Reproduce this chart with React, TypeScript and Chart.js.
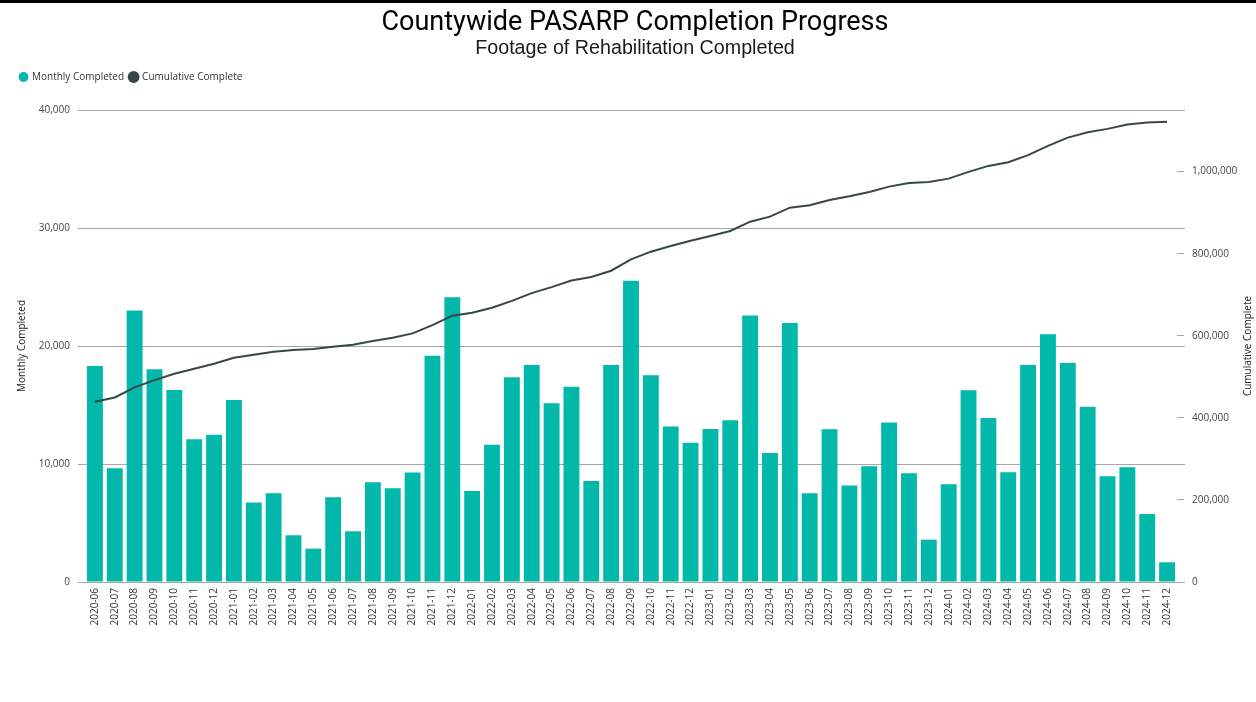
import React, { useEffect, useRef } from 'react';
import { Chart, registerables } from 'chart.js';

Chart.register(...registerables);

const TITLE = 'Countywide PASARP Completion Progress';
const SUBTITLE = 'Footage of Rehabilitation Completed';
const SERIES_NAMES = ['Monthly Completed', 'Cumulative Complete'];
const Y_TITLE = 'Monthly Completed';
const Y1_TITLE = 'Cumulative Complete';

const CATEGORIES = [
  '2020-06', '2020-07', '2020-08', '2020-09', '2020-10', '2020-11', '2020-12',
  '2021-01', '2021-02', '2021-03', '2021-04', '2021-05', '2021-06', '2021-07', '2021-08', '2021-09', '2021-10', '2021-11', '2021-12',
  '2022-01', '2022-02', '2022-03', '2022-04', '2022-05', '2022-06', '2022-07', '2022-08', '2022-09', '2022-10', '2022-11', '2022-12',
  '2023-01', '2023-02', '2023-03', '2023-04', '2023-05', '2023-06', '2023-07', '2023-08', '2023-09', '2023-10', '2023-11', '2023-12',
  '2024-01', '2024-02', '2024-03', '2024-04', '2024-05', '2024-06', '2024-07', '2024-08', '2024-09', '2024-10', '2024-11', '2024-12',
];

const MONTHLY = [
  18300, 9640, 23010, 18040, 16280, 12100, 12470,
  15430, 6730, 7520, 3960, 2830, 7180, 4300, 8450, 7940, 9270, 19170, 24140,
  7720, 11640, 17360, 18400, 15150, 16540, 8560, 18400, 25530, 17530, 13170, 11810,
  12970, 13710, 22580, 10940, 21960, 7520, 12950, 8170, 9810, 13510, 9220, 3590,
  8280, 16250, 13900, 9300, 18400, 21000, 18570, 14860, 8960, 9730, 5770, 1670,
];

const CUMULATIVE = [
  439000, 449700, 474100, 491900, 507300, 519500, 531700,
  546300, 553700, 561000, 565100, 567500, 573200, 578000, 587000, 595100, 605800, 626100, 649000,
  656100, 668300, 685000, 704000, 718500, 734500, 743000, 758500, 786300, 804900, 818800, 831700,
  843200, 855400, 878000, 890200, 912200, 918000, 931000, 940000, 950500, 963400, 972400, 974900,
  982900, 999300, 1013900, 1022900, 1040000, 1062700, 1082900, 1096100, 1104100, 1114600, 1119500, 1121200,
];

const Y_TICKS = [0, 10000, 20000, 30000, 40000];
const Y1_TICKS = [0, 200000, 400000, 600000, 800000, 1000000];
const Y_MAX = 40000;
const Y1_MAX = 1150000;

const TEAL = '#01B8AA';
const DARK = '#374649';
const GRID = '#a6a6a6';
const TICK_COLOR = '#444';
const UI_FONT = "'Segoe UI', 'Open Sans', 'Noto Sans', sans-serif";

export default function App() {
  const ref = useRef<HTMLCanvasElement | null>(null);

  useEffect(() => {
    if (!ref.current) return;

    const legendSpacer = {
      id: 'legendSpacer',
      beforeInit(chart: any) {
        const legend = chart.legend;
        if (!legend) return;
        const origFit = legend.fit;
        legend.fit = function () {
          origFit.call(this);
          this.height += 18;
        };
      },
    };

    const gridExtend = {
      id: 'gridExtend',
      afterDraw(chart: any) {
        const s = chart.scales.y;
        const ctx = chart.ctx;
        const area = chart.chartArea;
        ctx.save();
        ctx.strokeStyle = GRID;
        ctx.lineWidth = 1;
        s.ticks.forEach((t: any) => {
          const y = Math.round(s.getPixelForValue(t.value)) + 0.5;
          ctx.beginPath();
          ctx.moveTo(area.right, y);
          ctx.lineTo(area.right + 8, y);
          ctx.stroke();
        });
        ctx.restore();
      },
    };

    const rightTitle = {
      id: 'rightTitle',
      afterDraw(chart: any) {
        const s = chart.scales.y1;
        const ctx = chart.ctx;
        ctx.save();
        ctx.translate(s.right - 8, (s.top + s.bottom) / 2);
        ctx.rotate(-Math.PI / 2);
        ctx.textAlign = 'center';
        ctx.textBaseline = 'middle';
        ctx.font = `10px ${UI_FONT}`;
        ctx.fillStyle = '#252423';
        ctx.fillText(Y1_TITLE, 0, 0);
        ctx.restore();
      },
    };

    const chart = new Chart(ref.current, {
      type: 'bar',
      data: {
        labels: CATEGORIES,
        datasets: [
          {
            type: 'bar',
            label: SERIES_NAMES[0],
            data: MONTHLY,
            backgroundColor: TEAL,
            borderWidth: 0,
            barPercentage: 0.8,
            categoryPercentage: 1,
            yAxisID: 'y',
            order: 1,
          } as any,
          {
            type: 'line',
            label: SERIES_NAMES[1],
            data: CUMULATIVE,
            borderColor: DARK,
            backgroundColor: DARK,
            borderWidth: 2,
            pointRadius: 0,
            tension: 0,
            fill: false,
            yAxisID: 'y1',
            order: 0,
          } as any,
        ],
      },
      options: {
        responsive: false,
        animation: false,
        layout: { padding: { left: 14, right: 0, top: 0, bottom: 0 } },
        plugins: {
          title: {
            display: true,
            text: TITLE,
            color: '#000',
            font: { family: 'Roboto', size: 27, weight: '400', lineHeight: 1.2 },
            padding: { top: 7, bottom: -3 },
          },
          subtitle: {
            display: true,
            text: SUBTITLE,
            color: '#1a1a1a',
            font: { family: "'Liberation Sans', Arial, sans-serif", size: 19.7, weight: 'normal', lineHeight: 1.2 },
            padding: { top: 0, bottom: 6 },
          },
          legend: {
            display: true,
            position: 'top',
            align: 'start',
            labels: {
              usePointStyle: true,
              pointStyle: 'circle',
              boxWidth: 7,
              boxHeight: 7,
              padding: 6,
              color: '#333',
              font: { family: UI_FONT, size: 10 },
              sort: (a: any, b: any) => a.datasetIndex - b.datasetIndex,
            },
          },
          tooltip: { enabled: false },
        },
        scales: {
          x: {
            grid: { display: false, drawTicks: false },
            border: { display: false },
            ticks: {
              autoSkip: false,
              minRotation: 90,
              maxRotation: 90,
              padding: 6,
              color: '#333',
              font: { family: UI_FONT, size: 10 },
            },
            afterFit(s: any) {
              s.height = 120;
            },
          },
          y: {
            position: 'left',
            min: 0,
            max: Y_MAX,
            ticks: {
              padding: 8,
              color: TICK_COLOR,
              font: { family: UI_FONT, size: 10 },
            },
            grid: { color: GRID, tickLength: 7, lineWidth: 1 },
            border: { display: false },
            title: {
              display: true,
              text: Y_TITLE,
              color: '#252423',
              padding: { top: 2, bottom: 0 },
              font: { family: UI_FONT, size: 10 },
            },
            afterBuildTicks(s: any) {
              s.ticks = Y_TICKS.map((v) => ({ value: v }));
            },
            afterFit(s: any) {
              s.width = 71;
            },
          },
          y1: {
            position: 'right',
            min: 0,
            max: Y1_MAX,
            ticks: {
              padding: 8,
              color: TICK_COLOR,
              autoSkip: false,
              font: { family: UI_FONT, size: 10 },
            },
            grid: { drawOnChartArea: false, color: GRID, tickLength: 7 },
            border: { display: false },
            afterBuildTicks(s: any) {
              s.ticks = Y1_TICKS.map((v) => ({ value: v }));
            },
            afterFit(s: any) {
              s.width = 79;
            },
          },
        },
      } as any,
      plugins: [legendSpacer, gridExtend, rightTitle],
    });

    return () => chart.destroy();
  }, []);

  return (
    <div style={{ position: 'absolute', left: 0, top: 0, width: 1256, height: 702, background: '#fff' }}>
      <canvas ref={ref} width={1256} height={702} style={{ display: 'block' }} />
      <div style={{ position: 'absolute', left: 0, top: 0, width: 1256, height: 3, background: '#000' }} />
    </div>
  );
}
